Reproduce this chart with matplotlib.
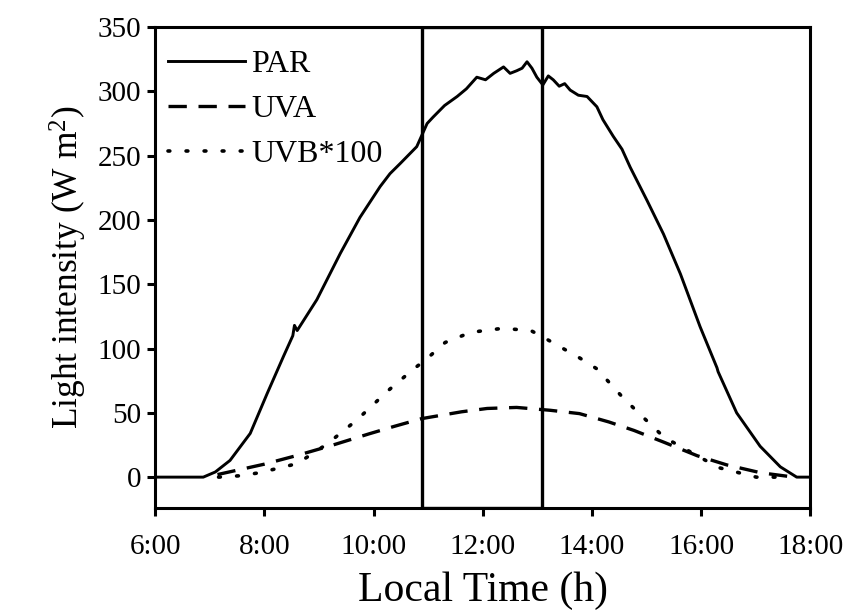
import numpy as np
import matplotlib
matplotlib.use('Agg')
import matplotlib.pyplot as plt

plt.rcParams['font.family'] = 'Liberation Serif'
plt.rcParams['mathtext.fontset'] = 'custom'
plt.rcParams['mathtext.rm'] = 'Liberation Serif'
plt.rcParams['mathtext.default'] = 'regular'

# PAR (hour of day, W m-2)
par_t = [6.0, 6.88, 7.10, 7.37, 7.74, 8.05, 8.35, 8.52, 8.55, 8.60, 8.96, 9.39, 9.75, 10.12,
         10.30, 10.49, 10.79, 10.98, 11.09, 11.30, 11.53, 11.70, 11.89, 12.05, 12.20, 12.38,
         12.50, 12.62, 12.72, 12.81, 12.90, 12.99, 13.10, 13.20, 13.29, 13.40, 13.50, 13.60,
         13.75, 13.91, 14.09, 14.20, 14.39, 14.55, 14.70, 15.01, 15.31, 15.62, 15.98, 16.29,
         16.31, 16.65, 17.08, 17.45, 17.75, 18.0]
par_v = [0, 0, 4, 13, 34, 65, 94, 110, 118, 114, 138, 174, 202, 226,
         236, 244, 257, 275, 280, 289, 296, 302, 311, 309, 314, 319,
         314, 316, 318, 323, 318, 311, 305, 312, 309, 304, 306, 301,
         297, 296, 288, 278, 265, 255, 241, 215, 189, 158, 117, 85,
         82, 50, 24, 8, 0, 0]

uva_t = [7.14, 7.99, 8.61, 9.22, 9.92, 10.38, 10.88, 11.61, 12.08, 12.62, 13.23, 13.77,
         14.31, 14.77, 15.32, 15.93, 16.47, 17.09, 17.70]
uva_v = [2, 10, 17, 24.5, 33.7, 39.5, 45.5, 50.8, 53.4, 54.2, 52, 49.4,
         42.9, 36.3, 27.1, 16.6, 9.5, 3.4, 0]

uvb_t = [7.16, 7.53, 7.91, 8.60, 9.15, 9.68, 9.96, 10.23, 10.73, 10.96, 11.31, 11.78,
         12.36, 12.88, 13.14, 13.77, 14.09, 14.55, 14.82, 15.32, 15.93, 16.32, 17.01, 17.40]
uvb_v = [0, 1, 3.4, 10.5, 25.8, 44, 55, 66, 84, 91.5, 104.7, 112.6,
         115.7, 114, 108, 92.8, 84.2, 62.6, 51.3, 31, 16.6, 7.4, 0, 0]

box_start, box_end = 10.88, 13.08
xticks = [6, 8, 10, 12, 14, 16, 18]
xlabels = ['6:00', '8:00', '10:00', '12:00', '14:00', '16:00', '18:00']
yticks = [0, 50, 100, 150, 200, 250, 300, 350]

fig = plt.figure(figsize=(8.53, 6.15), dpi=100)
ax = fig.add_axes([0.182, 0.174, 0.768, 0.782])

ax.plot(par_t, par_v, color='black', lw=2.1, ls='-', label='PAR')
ax.plot(uva_t, uva_v, color='black', lw=2.4, ls=(0, (5.5, 3.5)), label='UVA')
ax.plot(uvb_t, uvb_v, color='black', lw=2.6, ls=(0, (0.5, 4.5)), dash_capstyle='round',
        label='UVB*100')

ax.axvspan(box_start, box_end, ymin=0, ymax=1, fill=False, edgecolor='black', lw=2.4)

ax.set_xlim(6, 18)
ax.set_ylim(-24, 350)
ax.set_xticks(xticks)
ax.set_xticklabels(xlabels)
ax.set_yticks(yticks)
ax.tick_params(direction='out', length=6, width=2.2, labelsize=21)
ax.tick_params(axis='x', pad=13)
ax.tick_params(axis='y', pad=4)
for sp in ax.spines.values():
    sp.set_linewidth(2.2)

ax.set_xlabel('Local Time (h)', fontsize=30, labelpad=8)
ax.set_ylabel('Light intensity (W m$^{2}$)', fontsize=25.5, labelpad=6)

ax.legend(loc='upper left', frameon=False, fontsize=23, handlelength=2.4,
          handletextpad=0.2, labelspacing=0.5, borderaxespad=0.0,
          bbox_to_anchor=(0.0, 0.98))

fig.savefig('out.png', dpi=100)
